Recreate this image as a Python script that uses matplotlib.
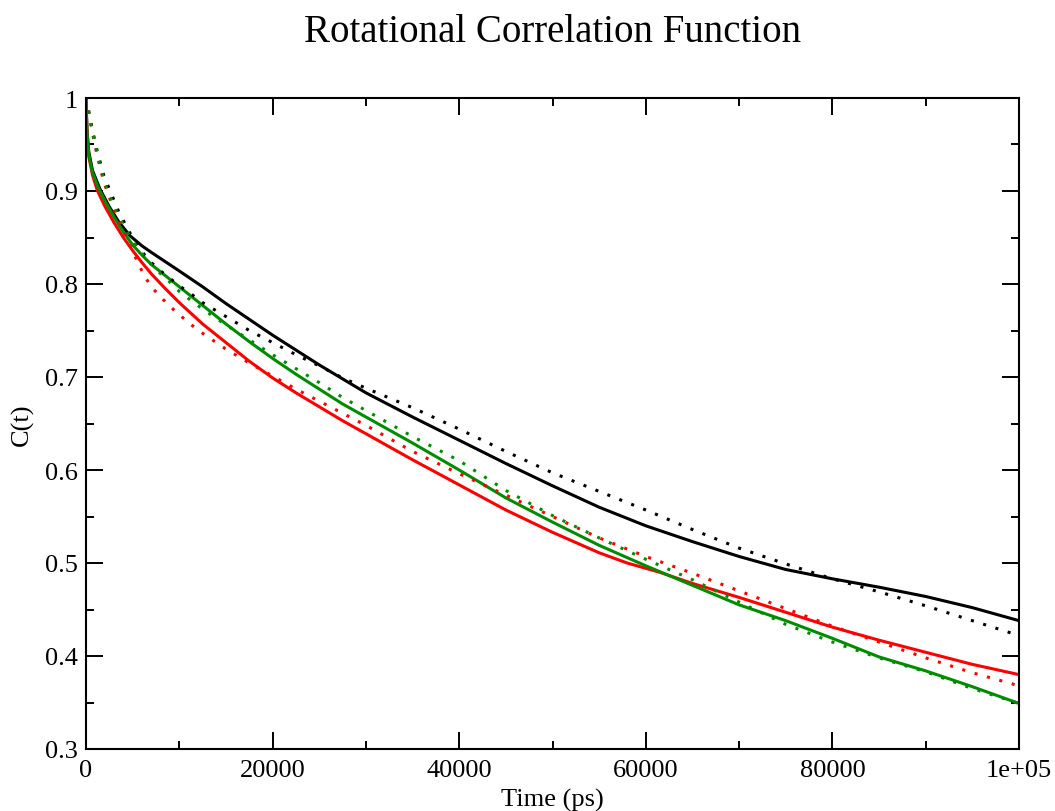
import matplotlib
matplotlib.use("Agg")
import matplotlib.pyplot as plt
from matplotlib.ticker import MultipleLocator, FixedLocator, FixedFormatter

title = "Rotational Correlation Function"
xlabel = "Time (ps)"
ylabel = "C(t)"

# Solid curves (simulation data)
t_black = [0, 100, 300, 700, 1500, 2500, 3500, 4700, 6000, 7000, 8500, 10000, 12500, 15000, 17500,
           20000, 22500, 25000, 27500, 30000, 35000, 40000, 45000, 50000, 55000, 60000, 65000,
           70000, 75000, 80000, 85000, 90000, 95000, 100000]
c_black = [1.0, 0.966, 0.942, 0.922, 0.902, 0.883, 0.867, 0.852, 0.841, 0.834, 0.824, 0.814, 0.797, 0.779, 0.762,
           0.745, 0.729, 0.713, 0.698, 0.683, 0.657, 0.632, 0.607, 0.583, 0.560, 0.540, 0.523,
           0.507, 0.493, 0.483, 0.474, 0.464, 0.452, 0.438]

t_red = [0, 100, 300, 700, 1200, 2000, 3000, 4000, 5000, 6000, 7000, 8500, 10000, 12500, 15000, 17500,
         20000, 22500, 25000, 27500, 30000, 35000, 40000, 45000, 50000, 55000, 58000, 61500, 65000,
         70000, 75000, 80000, 85000, 90000, 95000, 100000]
c_red = [1.0, 0.962, 0.937, 0.917, 0.901, 0.884, 0.866, 0.850, 0.836, 0.823, 0.811, 0.795, 0.780, 0.757, 0.737, 0.717,
         0.699, 0.683, 0.668, 0.653, 0.639, 0.611, 0.584, 0.557, 0.533, 0.511, 0.500, 0.490, 0.478,
         0.463, 0.447, 0.431, 0.417, 0.404, 0.391, 0.380]

t_green = [0, 100, 300, 700, 1300, 2000, 3000, 4000, 5000, 6000, 7000, 8500, 10000, 12500, 15000, 17500,
           20000, 22500, 25000, 27500, 30000, 35000, 40000, 45000, 50000, 55000, 60000, 65000,
           70000, 75000, 80000, 85000, 90000, 95000, 100000]
c_green = [1.0, 0.963, 0.939, 0.920, 0.904, 0.890, 0.872, 0.856, 0.842, 0.831, 0.821, 0.809, 0.797, 0.777, 0.757, 0.738,
           0.720, 0.703, 0.687, 0.671, 0.657, 0.629, 0.600, 0.570, 0.544, 0.519, 0.497, 0.476,
           0.455, 0.438, 0.419, 0.399, 0.384, 0.367, 0.349]

# Dotted curves (fits)
t_fit = [0, 250, 700, 1200, 1900, 2500, 3500, 4700, 5600, 6300, 7000, 8000, 9000, 10000, 11300, 12500,
         15000, 17500, 20000, 22500, 25000, 27500, 30000, 35000, 40000, 45000, 50000, 55000, 60000,
         65000, 70000, 75000, 80000, 85000, 90000, 95000, 100000]
fit_black = [1.0, 0.988, 0.965, 0.943, 0.917, 0.902, 0.878, 0.855, 0.840, 0.831, 0.823, 0.814, 0.806, 0.798, 0.789, 0.780,
             0.765, 0.750, 0.737, 0.724, 0.712, 0.699, 0.688, 0.667, 0.644, 0.620, 0.597, 0.577, 0.557,
             0.536, 0.516, 0.499, 0.483, 0.469, 0.454, 0.438, 0.422]
fit_red = [1.0, 0.987, 0.962, 0.938, 0.910, 0.893, 0.868, 0.842, 0.822, 0.808, 0.797, 0.786, 0.776, 0.767, 0.756, 0.747,
           0.730, 0.715, 0.701, 0.687, 0.674, 0.661, 0.648, 0.620, 0.596, 0.573, 0.550, 0.527, 0.507,
           0.489, 0.470, 0.451, 0.432, 0.415, 0.398, 0.382, 0.368]
fit_green = [1.0, 0.987, 0.963, 0.940, 0.912, 0.896, 0.873, 0.851, 0.838, 0.829, 0.821, 0.811, 0.802, 0.792, 0.782, 0.773,
             0.756, 0.740, 0.724, 0.709, 0.694, 0.678, 0.664, 0.636, 0.610, 0.578, 0.551, 0.527, 0.504,
             0.482, 0.458, 0.434, 0.415, 0.398, 0.383, 0.365, 0.349]

xticks = [0, 20000, 40000, 60000, 80000, 100000]
xticklabels = ["0", "20000", "40000", "60000", "80000", "1e+05"]
yticks = [0.3, 0.4, 0.5, 0.6, 0.7, 0.8, 0.9, 1.0]
yticklabels = ["0.3", "0.4", "0.5", "0.6", "0.7", "0.8", "0.9", "1"]

BLACK = "#000000"
RED = "#ff0000"
GREEN = "#008c00"

plt.rcParams["font.family"] = ["Liberation Serif", "DejaVu Serif"]

fig = plt.figure(figsize=(10.55, 8.12), dpi=100)
ax = fig.add_axes([86 / 1055, 1 - 750 / 812, (1019 - 86) / 1055, (750 - 99) / 812])

lw = 2.2
ax.plot(t_black, c_black, color=BLACK, lw=lw, solid_joinstyle="round")
ax.plot(t_red, c_red, color=RED, lw=lw, solid_joinstyle="round")
ax.plot(t_green, c_green, color=GREEN, lw=lw, solid_joinstyle="round")
dots = (0, (1, 3.2))
ax.plot(t_fit, fit_black, color=BLACK, lw=lw, linestyle=dots)
ax.plot(t_fit, fit_red, color=RED, lw=lw, linestyle=dots)
ax.plot(t_fit, fit_green, color=GREEN, lw=lw, linestyle=dots)

ax.set_xlim(0, 100000)
ax.set_ylim(0.3, 1.0)

ax.xaxis.set_major_locator(FixedLocator(xticks))
ax.xaxis.set_major_formatter(FixedFormatter(xticklabels))
ax.xaxis.set_minor_locator(MultipleLocator(10000))
ax.yaxis.set_major_locator(FixedLocator(yticks))
ax.yaxis.set_major_formatter(FixedFormatter(yticklabels))
ax.yaxis.set_minor_locator(MultipleLocator(0.05))

ax.tick_params(which="both", direction="in", top=True, right=True, width=1.4, labelsize=19)
ax.tick_params(which="major", length=12)
ax.tick_params(which="minor", length=6)
ax.tick_params(axis="x", pad=7)
ax.tick_params(axis="y", pad=6)
for s in ax.spines.values():
    s.set_linewidth(1.5)

ax.set_xlabel(xlabel, fontsize=19, labelpad=5)
ax.set_ylabel(ylabel, fontsize=19, labelpad=8)
fig.text(553 / 1055, 1 - 32 / 812, title, fontsize=28, ha="center", va="center")

fig.savefig("out.png", dpi=100)
